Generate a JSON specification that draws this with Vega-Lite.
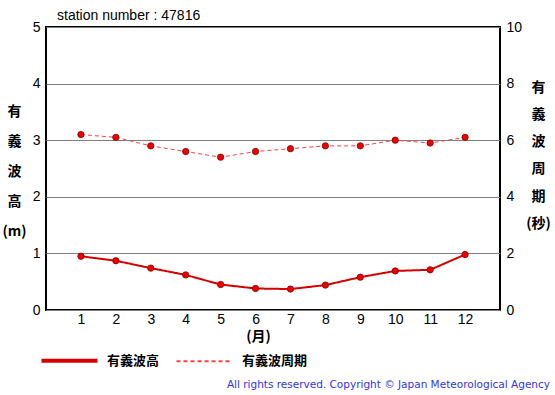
{
  "$schema": "https://vega.github.io/schema/vega-lite/v6.json",
  "autosize": {"type": "none"},
  "padding": {"left": 46, "top": 27, "right": 55, "bottom": 85},
  "width": 454,
  "height": 283,
  "background": "white",
  "title": {
    "text": "All rights reserved. Copyright © Japan Meteorological Agency",
    "orient": "bottom",
    "anchor": "end",
    "frame": "group",
    "dx": 50,
    "offset": 11,
    "font": "DejaVu Sans",
    "fontSize": 10.5,
    "fontWeight": "normal",
    "color": "#3333ee"
  },
  "config": {
    "view": {"stroke": "black", "strokeWidth": 2},
    "axis": {
      "labelFont": "Liberation Sans",
      "labelFontSize": 14,
      "labelColor": "black",
      "ticks": false,
      "domain": false,
      "titleFont": "Noto Sans CJK JP",
      "titleFontWeight": "bold",
      "titleFontSize": 14,
      "titleColor": "black"
    },
    "legend": {
      "orient": "none",
      "legendX": 17,
      "legendY": 327,
      "direction": "horizontal",
      "symbolType": "stroke",
      "symbolSize": 3136,
      "labelFont": "Noto Sans CJK JP",
      "labelFontWeight": "bold",
      "labelFontSize": 13,
      "labelColor": "black",
      "labelOffset": 31,
      "columnPadding": 12,
      "title": null
    }
  },
  "data": {
    "values": [
      {"month": 1, "height": 0.95, "period": 6.2},
      {"month": 2, "height": 0.87, "period": 6.1},
      {"month": 3, "height": 0.74, "period": 5.8},
      {"month": 4, "height": 0.62, "period": 5.6},
      {"month": 5, "height": 0.45, "period": 5.4},
      {"month": 6, "height": 0.38, "period": 5.6},
      {"month": 7, "height": 0.37, "period": 5.7},
      {"month": 8, "height": 0.44, "period": 5.8},
      {"month": 9, "height": 0.58, "period": 5.8},
      {"month": 10, "height": 0.69, "period": 6.0},
      {"month": 11, "height": 0.71, "period": 5.9},
      {"month": 12, "height": 0.98, "period": 6.1}
    ]
  },
  "encoding": {
    "x": {
      "field": "month",
      "type": "quantitative",
      "scale": {"domain": [0, 13]},
      "axis": {
        "values": [1, 2, 3, 4, 5, 6, 7, 8, 9, 10, 11, 12],
        "grid": false,
        "labelPadding": 2,
        "title": "(月)",
        "titleX": 212,
        "titleY": 26,
        "titleBaseline": "middle",
        "titleAlign": "center"
      }
    }
  },
  "layer": [
    {
      "encoding": {
        "y": {
          "field": "height",
          "type": "quantitative",
          "scale": {"domain": [0, 5]},
          "axis": {
            "orient": "left",
            "values": [0, 1, 2, 3, 4, 5],
            "grid": true,
            "gridColor": "#808080",
            "gridWidth": 1,
            "gridOpacity": 1,
            "labelPadding": 6,
            "title": ["有", "義", "波", "高", "(m)"],
            "titleAngle": 0,
            "titleLineHeight": 30,
            "titleX": -32,
            "titleY": 84,
            "titleAlign": "center",
            "titleBaseline": "middle"
          }
        }
      },
      "layer": [
        {
          "mark": {"type": "line", "strokeWidth": 2},
          "encoding": {
            "color": {
              "datum": "有義波高",
              "scale": {"domain": ["有義波高", "有義波周期"], "range": ["#d40000", "#ff4040"]},
              "legend": {
                "encode": {
                  "symbols": {"update": {"strokeWidth": {"signal": "datum.value === '有義波高' ? 4 : 2"}}}
                }
              }
            },
            "strokeDash": {
              "datum": "有義波高",
              "scale": {"domain": ["有義波高", "有義波周期"], "range": [[1, 0], [4, 3]]}
            }
          }
        },
        {
          "mark": {"type": "point", "filled": true, "size": 40, "color": "#ee0000", "stroke": "#880000", "strokeWidth": 0.8, "opacity": 1}
        }
      ]
    },
    {
      "encoding": {
        "y": {
          "field": "period",
          "type": "quantitative",
          "scale": {"domain": [0, 10]},
          "axis": {
            "orient": "right",
            "values": [0, 2, 4, 6, 8, 10],
            "grid": false,
            "labelPadding": 6,
            "title": ["有", "義", "波", "周", "期", "(秒)"],
            "titleAngle": 0,
            "titleLineHeight": 27.3,
            "titleX": 38,
            "titleY": 60,
            "titleAlign": "center",
            "titleBaseline": "middle"
          }
        }
      },
      "layer": [
        {
          "mark": {"type": "line", "strokeWidth": 1},
          "encoding": {
            "color": {"datum": "有義波周期"},
            "strokeDash": {"datum": "有義波周期"}
          }
        },
        {
          "mark": {"type": "point", "filled": true, "size": 40, "color": "#ee0000", "stroke": "#880000", "strokeWidth": 0.8, "opacity": 1}
        }
      ]
    },
    {
      "data": {"values": [{"station": "station number : 47816", "sx": 0, "sy": 5}]},
      "mark": {"type": "text", "clip": false, "align": "left", "baseline": "bottom", "dx": 11, "dy": -4, "font": "Liberation Sans", "fontSize": 14, "color": "black"},
      "encoding": {
        "x": {"field": "sx", "type": "quantitative"},
        "y": {"field": "sy", "type": "quantitative", "scale": {"domain": [0, 5]}, "axis": null},
        "text": {"field": "station"}
      }
    }
  ],
  "resolve": {"scale": {"y": "independent"}}
}
